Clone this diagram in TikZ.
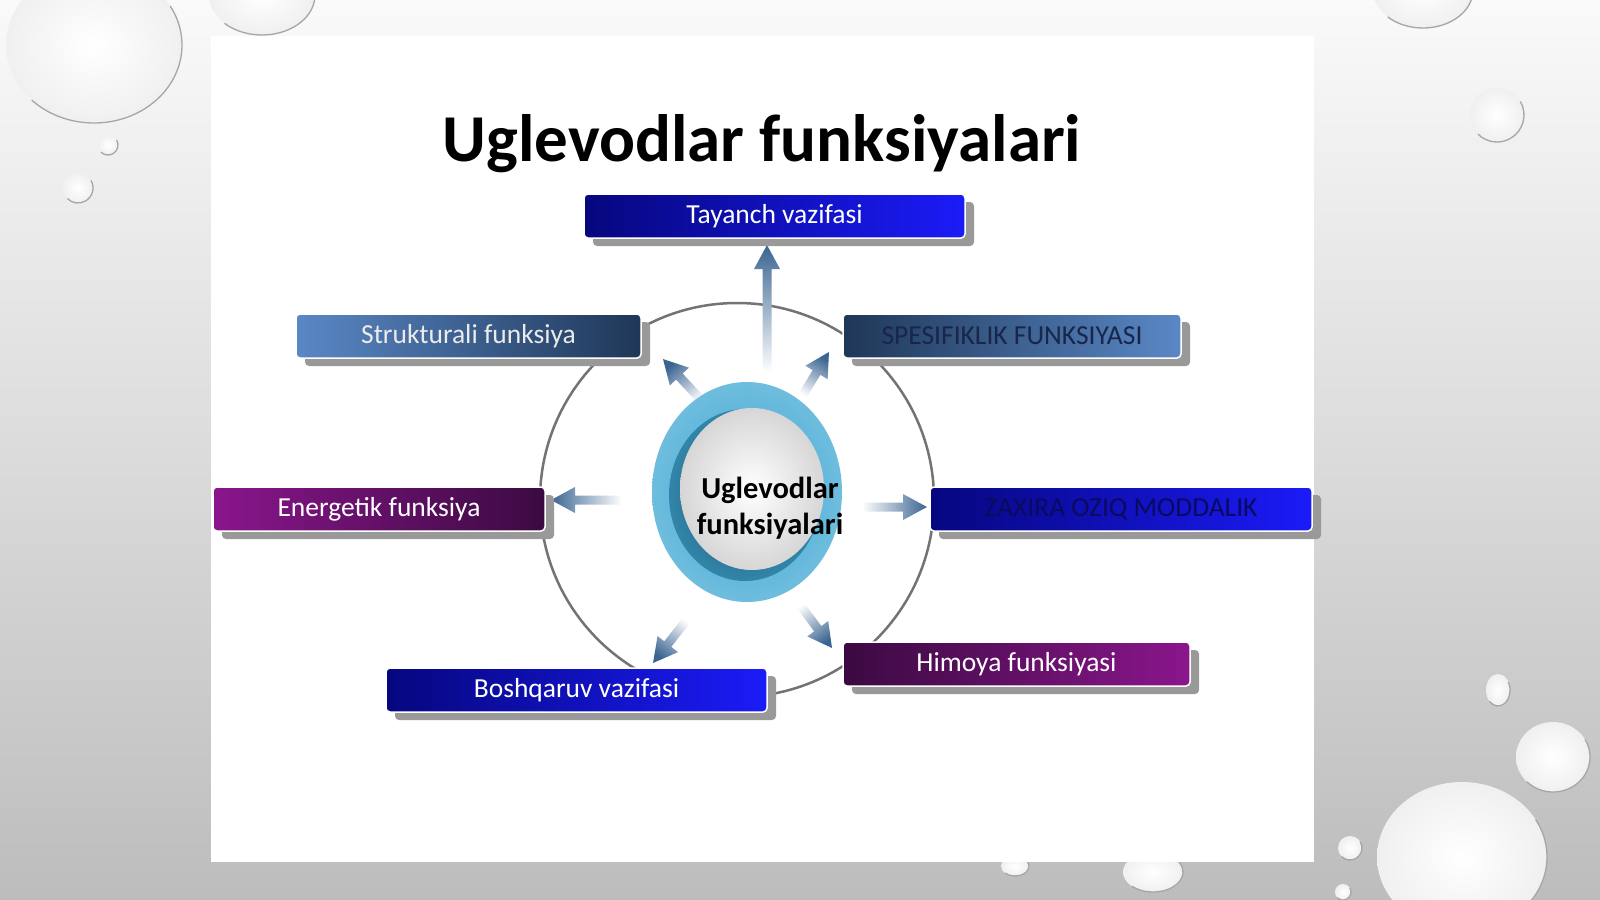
\documentclass[tikz,border=0pt]{standalone}
\usepackage{fontspec}
\setmainfont{Carlito}
\usetikzlibrary{arrows.meta,shadows,calc}
\definecolor{navyL}{HTML}{06077E}
\definecolor{blueR}{HTML}{1B1BF8}
\definecolor{steelL}{HTML}{5A88C6}
\definecolor{steelD}{HTML}{1F3757}
\definecolor{purL}{HTML}{8A168C}
\definecolor{purD}{HTML}{3B0A41}
\definecolor{arrowc}{HTML}{3B6591}
\definecolor{ringc}{HTML}{3EA7D3}
\definecolor{ringd}{HTML}{1F4F73}
\definecolor{txtdark}{HTML}{17264A}
\definecolor{txtnavy}{HTML}{0A0A5E}
\newcommand{\droplet}[4]{%
  \shade[inner color=white, outer color=black!6] (#1,#2) ellipse ({#3} and {#4});
  \draw[black!35, line width=1.3pt] (#1,#2) ++(-30:{#3} and {#4}) arc[start angle=-30, end angle=135, x radius=#3, y radius=#4];
}
\newcommand{\shadearrow}[3]{%
  \coordinate (hb) at ($(#2)!24pt!(#1)$);
  \shade[top color=arrowc, middle color=arrowc!60, bottom color=white, shading angle=#3]
    ($(#1)!4.5pt!90:(#2)$) -- ($(hb)!4.5pt!-90:(#1)$) -- ($(hb)!13pt!-90:(#1)$) -- (#2)
    -- ($(hb)!13pt!90:(#1)$) -- ($(hb)!4.5pt!90:(#1)$) -- ($(#1)!4.5pt!-90:(#2)$) -- cycle;
}
\begin{document}
\begin{tikzpicture}[x=1pt,y=-1pt,
  fbox/.style={rectangle, rounded corners=4pt, draw=white, line width=1.5pt,
    minimum height=44pt, inner sep=0pt, text=white, font=\fontsize{27.5}{30}\selectfont,
    drop shadow={shadow xshift=9pt, shadow yshift=-8pt, fill=black!40, opacity=1}},
  bluebox/.style={fbox, left color=navyL, right color=blueR},
  steelLR/.style={fbox, left color=steelL, right color=steelD},
  steelRL/.style={fbox, left color=steelD, right color=steelL},
  purLR/.style={fbox, left color=purL, right color=purD},
  purRL/.style={fbox, left color=purD, right color=purL}]
\useasboundingbox (0,0) rectangle (1600,899);
% background
\shade[top color=black!2, bottom color=black!26] (0,0) rectangle (1600,899);
\droplet{94}{45}{88}{78}
\droplet{262}{-5}{53}{40}
\droplet{108}{145}{10}{10}
\droplet{78}{188}{15}{15}
\droplet{1423}{-10}{50}{38}
\droplet{1497}{115}{27}{27}
\droplet{1498}{690}{12}{16}
\droplet{1553}{757}{37}{35}
\droplet{1462}{857}{85}{75}
\droplet{1350}{848}{12}{12}
\droplet{1343}{892}{8}{8}
\droplet{1015}{866}{14}{10}
\droplet{1153}{872}{30}{20}
% slide
\fill[white] (211,36) rectangle (1314,862);
% big circle
\draw[black!55, line width=2.5pt] (737,500) circle (197);
% arrow end points
\coordinate (t1) at (767,372); \coordinate (p1) at (767,245);
\coordinate (t2) at (704,403); \coordinate (p2) at (663,359);
\coordinate (t3) at (801,398); \coordinate (p3) at (829,352);
\coordinate (t4) at (622,500); \coordinate (p4) at (551,500);
\coordinate (t5) at (862,507); \coordinate (p5) at (927,507);
\coordinate (t6) at (689,617); \coordinate (p6) at (653,663);
\coordinate (t7) at (798,602); \coordinate (p7) at (832,648);
\shadearrow{t1}{p1}{0}
\shadearrow{t2}{p2}{43}
\shadearrow{t3}{p3}{-31}
\shadearrow{t4}{p4}{90}
\shadearrow{t5}{p5}{-90}
\shadearrow{t6}{p6}{142}
\shadearrow{t7}{p7}{-143}
% ring
\shade[inner color=ringc, outer color=ringc!75!white] (747,492) ellipse (95 and 110);
\shade[inner color=ringd, outer color=ringc!80!black] (745,495) ellipse (76 and 86);
\shade[inner color=white, outer color=black!16] (752,489) ellipse (72 and 81);
\node[font=\bfseries\fontsize{30.5}{36}\selectfont, align=center, text=black] (c) at (770,508) {Uglevodlar\\funksiyalari};
% boxes
\node[bluebox, minimum width=381pt] (tay) at (774.5,216) {Tayanch vazifasi};
\node[steelLR, minimum width=345pt, text=black!8] (str) at (468.5,336) {Strukturali funksiya};
\node[steelRL, minimum width=338pt, text=txtdark] (spe) at (1012,336) {SPESIFIKLIK FUNKSIYASI};
\node[purLR, minimum width=332pt] (ene) at (379,509) {Energetik funksiya};
\node[bluebox, minimum width=382pt, text=txtnavy] (zax) at (1121,509) {ZAXIRA OZIQ MODDALIK};
\node[bluebox, minimum width=381pt] (bos) at (576.5,690) {Boshqaruv vazifasi};
\node[purRL, minimum width=347pt] (him) at (1016.5,664) {Himoya funksiyasi};
% title
\node[font=\bfseries\fontsize{67}{72}\selectfont, anchor=base] (title) at (762,161) {Uglevodlar funksiyalari};
\end{tikzpicture}
\end{document}
